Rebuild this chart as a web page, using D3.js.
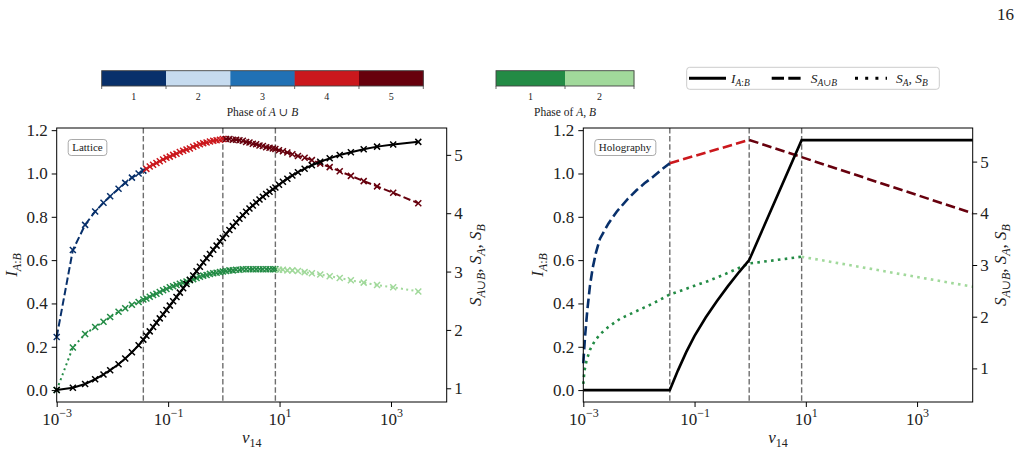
<!DOCTYPE html>
<html>
<head>
<meta charset="utf-8">
<script src="https://cdn.jsdelivr.net/npm/d3@7"></script>
<style>
  body { margin: 0; background: #fff; }
  svg { display: block; font-family: 'Liberation Serif', 'DejaVu Serif', serif; }
</style>
</head>
<body>
<svg id="fig" width="1021" height="452"></svg>
<script>
// ---------- data (log10 of v14 for x) ----------
const transitionLogV = [-1.445, -0.018, 0.925]

const latticeLogV = [
  -3.00, -2.71, -2.49, -2.31, -2.16, -2.04, -1.89, -1.77, -1.65, -1.53, -1.445,
  -1.39, -1.33, -1.27, -1.21, -1.15, -1.09, -1.03, -0.97, -0.91, -0.85, -0.79,
  -0.73, -0.67, -0.61, -0.55, -0.49, -0.43, -0.37, -0.31, -0.25, -0.19, -0.13,
  -0.07, -0.018, 0.04, 0.10, 0.16, 0.22, 0.28, 0.34, 0.40, 0.46, 0.52,
  0.58, 0.64, 0.70, 0.76, 0.82, 0.88, 0.925, 0.99, 1.06, 1.14, 1.23,
  1.33, 1.45, 1.58, 1.73, 1.90, 2.08, 2.28, 2.51, 2.75, 3.04, 3.49
]
const latticeI = [
  0.000, 0.011, 0.028, 0.050, 0.072, 0.092, 0.119, 0.146, 0.175, 0.207, 0.233,
  0.251, 0.271, 0.291, 0.311, 0.331, 0.350, 0.370, 0.390, 0.410, 0.430, 0.450,
  0.470, 0.490, 0.509, 0.529, 0.549, 0.569, 0.589, 0.609, 0.628, 0.648, 0.667,
  0.686, 0.702, 0.721, 0.739, 0.757, 0.774, 0.791, 0.807, 0.823, 0.838, 0.852,
  0.866, 0.880, 0.893, 0.905, 0.916, 0.927, 0.935, 0.948, 0.962, 0.976, 0.991,
  1.006, 1.022, 1.038, 1.054, 1.070, 1.085, 1.098, 1.112, 1.124, 1.134, 1.146
]
const latticeSAB = [
  1.88, 3.37, 3.80, 4.03, 4.18, 4.29, 4.42, 4.52, 4.61, 4.68, 4.73,
  4.76, 4.80, 4.83, 4.86, 4.89, 4.92, 4.95, 4.97, 5.00, 5.02, 5.05,
  5.07, 5.09, 5.11, 5.14, 5.16, 5.18, 5.20, 5.21, 5.23, 5.24, 5.25,
  5.26, 5.27, 5.27, 5.27, 5.26, 5.26, 5.25, 5.24, 5.22, 5.21, 5.19,
  5.18, 5.16, 5.15, 5.13, 5.12, 5.11, 5.10, 5.08, 5.06, 5.04, 5.01,
  4.98, 4.95, 4.91, 4.85, 4.79, 4.72, 4.64, 4.55, 4.46, 4.35, 4.17
]
const latticeSA = [
  0.97, 1.70, 1.93, 2.05, 2.14, 2.22, 2.31, 2.37, 2.43, 2.48, 2.52,
  2.54, 2.57, 2.60, 2.62, 2.65, 2.68, 2.70, 2.73, 2.75, 2.77, 2.79,
  2.81, 2.83, 2.85, 2.87, 2.89, 2.91, 2.93, 2.94, 2.96, 2.97, 2.98,
  2.99, 3.00, 3.01, 3.02, 3.02, 3.03, 3.03, 3.04, 3.04, 3.04, 3.04,
  3.04, 3.04, 3.04, 3.04, 3.04, 3.04, 3.04, 3.03, 3.03, 3.02, 3.02,
  3.01, 2.99, 2.97, 2.95, 2.92, 2.89, 2.85, 2.81, 2.77, 2.73, 2.66
]

const holoILogV = [-3.0, -1.445, -1.30, -1.15, -1.0, -0.8, -0.6, -0.4, -0.2, -0.018, 0.925, 4.0]
const holoI = [0, 0, 0.09, 0.175, 0.25, 0.335, 0.41, 0.48, 0.545, 0.60, 1.154, 1.154]

const holoABLogV = [-3.0, -2.97, -2.93, -2.88, -2.83, -2.77, -2.70, -2.55, -2.40, -2.20, -2.04, -1.90, -1.74, -1.60, -1.445, -0.018, 4.0]
const holoSAB = [1.10, 1.60, 2.10, 2.60, 2.95, 3.25, 3.51, 3.80, 4.03, 4.28, 4.45, 4.58, 4.71, 4.84, 4.97, 5.42, 4.00]

const holoALogV = [-3.0, -2.98, -2.94, -2.88, -2.80, -2.70, -2.55, -2.34, -2.10, -1.90, -1.74, -1.60, -1.445, -1.2, -1.0, -0.78, -0.5, -0.25, -0.018, 0.5, 0.925, 4.0]
const holoSA = [0.70, 0.95, 1.16, 1.36, 1.52, 1.66, 1.80, 1.96, 2.08, 2.18, 2.26, 2.34, 2.43, 2.52, 2.60, 2.68, 2.80, 2.92, 3.03, 3.10, 3.16, 2.58]

// phase per interval between the transitions (4 intervals)
const phasesAB = [1, 4, 5, 5]
const phasesA = [1, 1, 1, 2]

const colorsAB = ['#08306b', '#c6dbef', '#2171b5', '#cb181d', '#67000d']
const labelsAB = ['1', '2', '3', '4', '5']
const colorsA = ['#238b45', '#a1d99b']
const labelsA = ['1', '2']

const xTicks = [-3, -1, 1, 3]
const yLeftTicks = [0, 0.2, 0.4, 0.6, 0.8, 1.0, 1.2]
const yRightTicks = [1, 2, 3, 4, 5]

// ---------- helpers ----------
const svg = d3.select('#fig')
const TOP = 128, BOTTOM = 402

function rich (text, parts, sub) {
  // parts: [string, italic, level] level 0 base, 1 subscript, -1 superscript
  let cur = 0
  parts.forEach(([s, it, lvl]) => {
    const target = lvl === 1 ? sub.down : lvl === -1 ? -sub.up : 0
    text.append('tspan')
      .attr('dy', target - cur)
      .attr('font-style', it ? 'italic' : 'normal')
      .attr('font-size', lvl ? sub.size : null)
      .text(s)
    cur = target
  })
  return text
}

// split a series into runs of constant phase; boundary point shared
function phaseRuns (pts, phases) {
  const phaseOf = lv => phases[transitionLogV.filter(t => t < lv - 1e-9).length]
  const runs = []
  pts.forEach((p, i) => {
    const ph = phaseOf(p.lv)
    p.phase = ph
    if (!runs.length || runs[runs.length - 1].phase !== ph) {
      const run = { phase: ph, pts: [] }
      if (i > 0) run.pts.push(pts[i - 1])
      runs.push(run)
    }
    runs[runs.length - 1].pts.push(p)
  })
  return runs
}

function drawPanel (cfg) {
  const g = svg.append('g')
  const x = d3.scaleLog().domain([1e-3, 1e4]).range([cfg.x0, cfg.x1])
  const yL = d3.scaleLinear().domain([-0.055, 1.21]).range([BOTTOM, TOP])
  const yR = d3.scaleLinear().domain(cfg.rightDomain).range([BOTTOM, TOP])

  // transitions
  g.selectAll('.trans').data(transitionLogV).enter().append('line')
    .attr('x1', d => x(Math.pow(10, d))).attr('x2', d => x(Math.pow(10, d)))
    .attr('y1', TOP).attr('y2', BOTTOM)
    .attr('stroke', '#6e6e6e').attr('stroke-width', 1.4)
    .attr('stroke-dasharray', '5.5,2.6')

  const mk = (lvs, vals) => lvs.map((lv, i) => ({ lv, v: Math.pow(10, lv), s: vals[i] }))

  const series = [
    { pts: mk(cfg.abLogV, cfg.sab), y: yR, phases: phasesAB, colors: colorsAB, dash: cfg.dash },
    { pts: mk(cfg.aLogV, cfg.sa), y: yR, phases: phasesA, colors: colorsA, dash: cfg.dot },
    { pts: mk(cfg.iLogV, cfg.iVals), y: yL, phases: null, colors: null, dash: null }
  ]

  series.forEach(sr => {
    const line = d3.line().x(d => x(d.v)).y(d => sr.y(d.s))
    const runs = sr.phases ? phaseRuns(sr.pts, sr.phases) : [{ phase: 0, pts: sr.pts }]
    runs.forEach(r => {
      g.append('path')
        .attr('d', line(r.pts))
        .attr('fill', 'none')
        .attr('stroke', sr.colors ? sr.colors[r.phase - 1] : '#000')
        .attr('stroke-width', cfg.lw)
        .attr('stroke-dasharray', sr.dash)
    })
    if (cfg.markers) {
      const a = 3
      g.selectAll(null).data(sr.pts).enter().append('path')
        .attr('d', `M${-a},${-a}L${a},${a}M${-a},${a}L${a},${-a}`)
        .attr('transform', d => `translate(${x(d.v)},${sr.y(d.s)})`)
        .attr('stroke', d => sr.colors ? sr.colors[d.phase - 1] : '#000')
        .attr('stroke-width', 1.5)
        .attr('fill', 'none')
    }
  })

  // frame
  g.append('rect')
    .attr('x', cfg.x0).attr('y', TOP)
    .attr('width', cfg.x1 - cfg.x0).attr('height', BOTTOM - TOP)
    .attr('fill', 'none').attr('stroke', '#000').attr('stroke-width', 1)

  // axes
  const style = ax => {
    ax.attr('font-size', 17).attr('font-family', null)
    ax.select('.domain').remove()
    ax.selectAll('.tick line').attr('stroke', '#000').attr('stroke-width', 1)
    ax.selectAll('.tick text').attr('fill', '#222')
  }
  g.append('g').attr('transform', `translate(${cfg.x0},0)`)
    .call(d3.axisLeft(yL).tickValues(yLeftTicks).tickFormat(d3.format('.1f')).tickSize(5).tickPadding(4))
    .call(style)
  g.append('g').attr('transform', `translate(${cfg.x1},0)`)
    .call(d3.axisRight(yR).tickValues(yRightTicks).tickFormat(d3.format('d')).tickSize(4.5).tickPadding(3))
    .call(style)
  const xa = g.append('g').attr('transform', `translate(0,${BOTTOM})`)
    .call(d3.axisBottom(x).tickValues(xTicks.map(e => Math.pow(10, e))).tickFormat('').tickSize(5))
    .call(style)
  xa.selectAll('.tick').each(function (d) {
    const e = Math.round(Math.log10(d))
    const t = d3.select(this).append('text')
      .attr('y', 23).attr('fill', '#222').attr('text-anchor', 'middle')
    rich(t, [['10', false, 0], [(e < 0 ? '\u2212' : '') + Math.abs(e), false, -1]], { size: 12, up: 8, down: 4 })
  })

  // axis labels
  const cx = (cfg.x0 + cfg.x1) / 2
  rich(g.append('text').attr('x', cx).attr('y', 443).attr('text-anchor', 'middle')
    .attr('font-size', 17).attr('fill', '#222'),
  [['v', true, 0], ['14', false, 1]], { size: 12, down: 4 })

  rich(g.append('text').attr('transform', `translate(${cfg.x0 - 40},265) rotate(-90)`)
    .attr('text-anchor', 'middle').attr('font-size', 17).attr('fill', '#222'),
  [['I', true, 0], ['A', true, 1], [':', false, 1], ['B', true, 1]], { size: 12, down: 4 })

  rich(g.append('text').attr('transform', `translate(${cfg.x1 + cfg.rightLabelDx},265) rotate(-90)`)
    .attr('text-anchor', 'middle').attr('font-size', 17).attr('fill', '#222'),
  [['S', true, 0], ['A', true, 1], ['\u222A', false, 1], ['B', true, 1], [', ', false, 0],
    ['S', true, 0], ['A', true, 1], [', ', false, 0], ['S', true, 0], ['B', true, 1]], { size: 12, down: 4 })

  // method label box
  const bx = g.append('g')
  const bt = bx.append('text').attr('x', cfg.x0 + cfg.boxDx).attr('y', 151)
    .attr('font-size', 11).attr('fill', '#222').text(cfg.name)
  const bb = bt.node().getBBox()
  bx.insert('rect', 'text')
    .attr('x', bb.x - 4).attr('y', 139.5).attr('width', bb.width + 8).attr('height', 16)
    .attr('rx', 3).attr('fill', '#fff').attr('stroke', '#aaa').attr('stroke-width', 1)
}

drawPanel({
  name: 'Lattice', x0: 56.7, x1: 446.7, rightDomain: [0.765, 5.46], markers: true,
  iLogV: latticeLogV, iVals: latticeI, abLogV: latticeLogV, sab: latticeSAB, aLogV: latticeLogV, sa: latticeSA,
  lw: 2, dash: '7.4,3.2', dot: '2,3.3', rightLabelDx: 34, boxDx: 15.5
})
drawPanel({
  name: 'Holography', x0: 583.3, x1: 972.7, rightDomain: [0.35, 5.65], markers: false,
  iLogV: holoILogV, iVals: holoI, abLogV: holoABLogV, sab: holoSAB, aLogV: holoALogV, sa: holoSA,
  lw: 2.6, dash: '9.6,4.2', dot: '2.6,4.3', rightLabelDx: 33, boxDx: 15.5
})

// ---------- colorbars ----------
function colorbar (x0, x1, colors, labels, title) {
  const g = svg.append('g')
  const y0 = 70.7, y1 = 86
  const xb = d3.scaleBand().domain(labels).range([x0, x1]).padding(0)
  g.selectAll('rect.c').data(labels).enter().append('rect')
    .attr('x', d => xb(d)).attr('y', y0).attr('width', xb.bandwidth() + 0.3).attr('height', y1 - y0)
    .attr('fill', (d, i) => colors[i])
  g.append('rect').attr('x', x0).attr('y', y0).attr('width', x1 - x0).attr('height', y1 - y0)
    .attr('fill', 'none').attr('stroke', '#444').attr('stroke-width', 0.9)
  const bounds = labels.map(d => xb(d)).concat([x1])
  g.selectAll('line').data(bounds).enter().append('line')
    .attr('x1', d => d).attr('x2', d => d).attr('y1', y1).attr('y2', y1 + 3)
    .attr('stroke', '#444').attr('stroke-width', 0.8)
  g.selectAll('text.t').data(labels).enter().append('text')
    .attr('x', d => xb(d) + xb.bandwidth() / 2).attr('y', 99.5)
    .attr('text-anchor', 'middle').attr('font-size', 10).attr('fill', '#222').text(d => d)
  rich(g.append('text').attr('x', (x0 + x1) / 2).attr('y', 116).attr('text-anchor', 'middle')
    .attr('font-size', 11.5).attr('fill', '#222'), title, { size: 11.5, down: 0 })
}
colorbar(101.7, 423.3, colorsAB, labelsAB,
  [['Phase of ', false, 0], ['A', true, 0], [' \u222A ', false, 0], ['B', true, 0]])
colorbar(496, 634, colorsA, labelsA,
  [['Phase of ', false, 0], ['A', true, 0], [', ', false, 0], ['B', true, 0]])

// ---------- legend ----------
const lg = svg.append('g')
lg.append('rect').attr('x', 686.7).attr('y', 67.3).attr('width', 252.6).attr('height', 22)
  .attr('rx', 3).attr('fill', '#fff').attr('stroke', '#ccc').attr('stroke-width', 1)
const legendItems = [
  { x: 689, w: 37, dash: null, parts: [['I', true, 0], ['A', true, 1], [':', false, 1], ['B', true, 1]] },
  { x: 771.7, w: 30, dash: '12.3,4.3', parts: [['S', true, 0], ['A', true, 1], ['\u222A', false, 1], ['B', true, 1]] },
  { x: 855, w: 32, dash: '3,7.2', parts: [['S', true, 0], ['A', true, 1], [', ', false, 0], ['S', true, 0], ['B', true, 1]] }
]
legendItems.forEach(it => {
  lg.append('line').attr('x1', it.x).attr('x2', it.x + it.w).attr('y1', 78.3).attr('y2', 78.3)
    .attr('stroke', '#000').attr('stroke-width', 3).attr('stroke-dasharray', it.dash)
  rich(lg.append('text').attr('x', it.x + it.w + (it.dash ? 9 : 5)).attr('y', 82.5)
    .attr('font-size', 13.5).attr('fill', '#222'), it.parts, { size: 9.5, down: 3 })
})

// page number
svg.append('text').attr('x', 1014).attr('y', 20).attr('text-anchor', 'end')
  .attr('font-size', 17).attr('fill', '#222').text('16')
</script>
</body>
</html>
